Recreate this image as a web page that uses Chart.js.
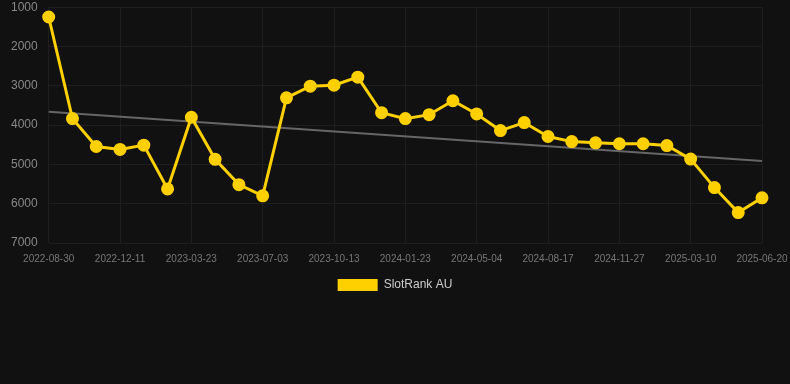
<!DOCTYPE html>
<html lang="en">
<head>
    <meta charset="UTF-8">
    <title>SlotRank AU</title>
    <script src="https://cdn.jsdelivr.net/npm/chart.js"></script>
    <style>
        html, body { margin: 0; padding: 0; background: #111111; overflow: hidden; }
        #wrap { width: 790px; height: 395px; position: relative; top: -11px; }
    </style>
</head>
<body>
    <div id="wrap"><canvas id="myChart"></canvas></div>

    <script>
        // dates (every third one is shown on the axis)
        const dates = [
            "2022-08-30", "2022-10-03", "2022-11-06", "2022-12-11", "2023-01-14", "2023-02-17",
            "2023-03-23", "2023-04-26", "2023-05-30", "2023-07-03", "2023-08-06", "2023-09-09",
            "2023-10-13", "2023-11-16", "2023-12-20", "2024-01-23", "2024-02-26", "2024-03-31",
            "2024-05-04", "2024-06-08", "2024-07-13", "2024-08-17", "2024-09-20", "2024-10-24",
            "2024-11-27", "2024-12-31", "2025-02-04", "2025-03-10", "2025-04-13", "2025-05-17",
            "2025-06-20"
        ];

        // rank values
        const rankAU = [
            1250, 3835, 4545, 4620, 4510, 5625, 3800, 4870, 5515, 5800, 3305,
            3010, 2985, 2780, 3685, 3835, 3735, 3380, 3715, 4140, 3935,
            4290, 4420, 4450, 4475, 4475, 4520, 4865, 5590, 6225, 5850
        ];

        // trend line ends
        const trendStart = 3660;
        const trendEnd = 4915;
        const trend = dates.map((d, i) => i === 0 ? trendStart : (i === dates.length - 1 ? trendEnd : null));

        const yTicks = [1000, 2000, 3000, 4000, 5000, 6000, 7000];

        const ctx = document.getElementById("myChart").getContext("2d");
        const chart = new Chart(ctx, {
            type: "line",
            data: {
                labels: dates,
                datasets: [{
                    label: "SlotRank AU",
                    data: rankAU,
                    borderColor: "#ffd000",
                    backgroundColor: "#ffd000",
                    pointBackgroundColor: "#ffd000",
                    pointBorderColor: "#ffd000",
                    borderWidth: 3,
                    pointRadius: 5,
                    tension: 0,
                    fill: false
                },
                {
                    label: "trend",
                    data: trend,
                    borderColor: "#666666",
                    borderWidth: 2,
                    pointRadius: 0,
                    spanGaps: true,
                    fill: false
                }]
            },
            options: {
                responsive: true,
                maintainAspectRatio: false,
                animation: false,
                layout: {
                    padding: { top: 0, right: 0, bottom: 83, left: 0 }
                },
                plugins: {
                    legend: {
                        position: "bottom",
                        labels: {
                            color: "#cccccc",
                            boxWidth: 40,
                            boxHeight: 12,
                            padding: 4,
                            font: { size: 12, family: "Liberation Sans, Arial, sans-serif" },
                            filter: item => item.datasetIndex === 0,
                            generateLabels: c => Chart.defaults.plugins.legend.labels.generateLabels(c)
                                .map(l => Object.assign(l, { lineWidth: 0 }))
                        }
                    },
                    tooltip: { enabled: false }
                },
                scales: {
                    x: {
                        afterFit: axis => { axis.paddingRight = 28; },
                        grid: {
                            color: c => c.index % 3 === 0 ? "#1e1e1e" : "rgba(0,0,0,0)",
                            drawTicks: false
                        },
                        border: { display: false },
                        ticks: {
                            color: "#777777",
                            font: { size: 10, family: "Liberation Sans, Arial, sans-serif" },
                            maxRotation: 0,
                            autoSkip: false,
                            padding: 10,
                            callback: function (val, idx) {
                                return idx % 3 === 0 ? this.getLabelForValue(val) : "";
                            }
                        }
                    },
                    y: {
                        reverse: true,
                        min: 1000,
                        max: 7000,
                        afterBuildTicks: axis => { axis.ticks = yTicks.map(v => ({ value: v })); },
                        grid: { color: "#1e1e1e", drawTicks: false },
                        border: { display: false },
                        ticks: {
                            color: "#888888",
                            font: { size: 12, family: "Liberation Sans, Arial, sans-serif" },
                            padding: 11,
                            callback: v => String(v)
                        }
                    }
                }
            }
        });
    </script>
</body>
</html>
